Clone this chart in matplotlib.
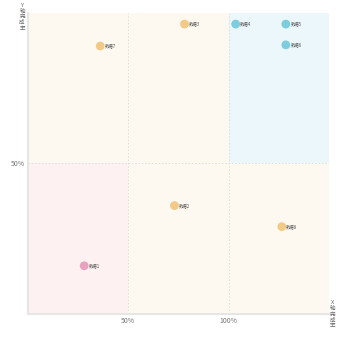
import matplotlib.pyplot as plt
from matplotlib.patches import Rectangle

plt.rcParams['font.family'] = ['Noto Sans CJK SC', 'DejaVu Sans']

# data (percent completion)
names = ["数据1", "数据2", "数据3", "数据4", "数据5", "数据6", "数据7", "数据8"]
x_rate = [28, 73, 78, 103.5, 128.5, 128.5, 36, 126.5]
y_rate = [16, 36, 96.3, 96.3, 96.3, 89.4, 89, 29]
x_ticks = [50, 100]
y_ticks = [50]
x_max, y_max = 150, 100
x_mid, y_mid = 100, 50
y_title = "Y轴完成率"
x_title = "X轴完成率"

orange = "#f2c987"
blue = "#7ccedf"
pink = "#e9a2be"

def color_for(x, y):
    if x >= x_mid and y >= y_mid:
        return blue
    if x < 50 and y < y_mid:
        return pink
    return orange

fig = plt.figure(figsize=(3.5, 3.5), dpi=100)
ax = fig.add_axes([0.08, 0.103, 0.86, 0.86])
ax.set_xlim(0, x_max)
ax.set_ylim(0, y_max)

# quadrant backgrounds
ax.add_patch(Rectangle((0, y_mid), x_mid, y_max - y_mid, color="#fdf9f0", zorder=0, lw=0))
ax.add_patch(Rectangle((x_mid, y_mid), x_max - x_mid, y_max - y_mid, color="#ebf7fa", zorder=0, lw=0))
ax.add_patch(Rectangle((0, 0), 50, y_mid, color="#fdf1f1", zorder=0, lw=0))
ax.add_patch(Rectangle((50, 0), x_max - 50, y_mid, color="#fdf9f0", zorder=0, lw=0))

for v in x_ticks:
    ax.axvline(v, color="#dddddd", lw=0.6, ls=(0, (2, 2)), zorder=1)
for v in y_ticks:
    ax.axhline(v, color="#dddddd", lw=0.6, ls=(0, (2, 2)), zorder=1)

cols = [color_for(x, y) for x, y in zip(x_rate, y_rate)]
ax.scatter(x_rate, y_rate, s=40, c=cols, edgecolors="none", zorder=3)
for n, x, y in zip(names, x_rate, y_rate):
    ax.annotate(n, (x, y), xytext=(3.2, 0), textcoords="offset points",
                fontsize=3.2, color="#555555", va="center", ha="left", zorder=4)

ax.set_xticks(x_ticks)
ax.set_xticklabels([f"{v}%" for v in x_ticks])
ax.set_yticks(y_ticks)
ax.set_yticklabels([f"{v}%" for v in y_ticks])
ax.tick_params(length=0, labelsize=5, labelcolor="#777777", pad=2)

for s in ["top", "right"]:
    ax.spines[s].set_visible(False)
for s in ["left", "bottom"]:
    ax.spines[s].set_color("#e6e6e6")
    ax.spines[s].set_linewidth(1.5)

# stacked vertical axis titles, one character per row
step = 0.0165
for i, ch in enumerate(y_title):
    fig.text(0.063, 0.985 - i * step, ch, fontsize=4, color="#666666",
             ha="center", va="center")
for i, ch in enumerate(x_title):
    fig.text(0.951, 0.135 - i * step, ch, fontsize=4, color="#666666",
             ha="center", va="center")

fig.savefig("out.png", dpi=100)
